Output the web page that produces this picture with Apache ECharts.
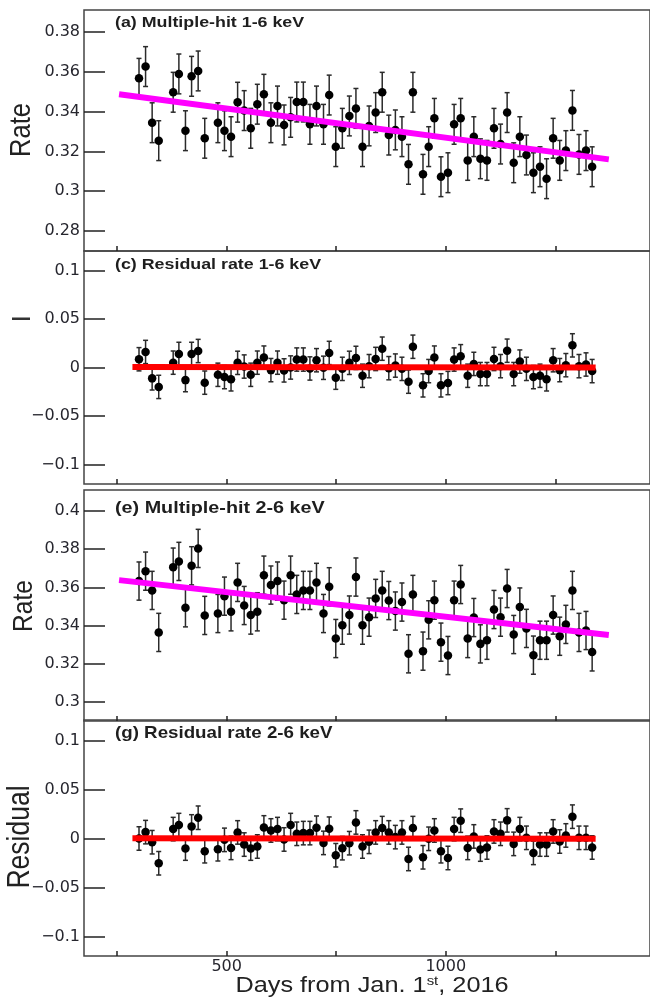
<!DOCTYPE html>
<html><head><meta charset="utf-8">
<script src="https://cdn.jsdelivr.net/npm/echarts@6/dist/echarts.min.js"></script>
<style>html,body{margin:0;padding:0;background:#fff}#c{width:650px;height:1000px}</style>
</head><body><div id="c"></div>
<script>
// ---- data ----
const days = [300, 315, 330, 345, 378, 391, 406, 420, 435, 450, 480, 495, 510, 525, 540, 555, 570, 585, 601, 616, 631, 646, 660, 675, 690, 705, 721, 734, 749, 764, 780, 795, 810, 825, 840, 855, 870, 885, 900, 915, 925, 948, 961, 974, 989, 1005, 1019, 1034, 1050, 1064, 1079, 1094, 1110, 1125, 1140, 1155, 1169, 1184, 1200, 1215, 1230, 1245, 1260, 1274, 1289, 1304, 1320, 1334];
const rate16 = [0.3567, 0.3626, 0.3344, 0.3254, 0.3497, 0.3589, 0.3304, 0.3577, 0.3604, 0.3266, 0.3344, 0.3304, 0.3274, 0.3447, 0.3405, 0.3316, 0.3437, 0.3487, 0.3344, 0.3428, 0.3333, 0.3371, 0.3448, 0.3448, 0.3336, 0.3428, 0.3336, 0.3483, 0.3224, 0.3316, 0.3378, 0.3416, 0.3224, 0.3328, 0.3395, 0.3497, 0.3282, 0.3308, 0.3274, 0.3135, 0.3497, 0.3085, 0.3224, 0.3366, 0.3073, 0.3093, 0.3336, 0.3366, 0.3155, 0.3274, 0.3163, 0.3155, 0.3316, 0.3237, 0.3395, 0.3143, 0.3274, 0.3182, 0.3093, 0.3123, 0.3063, 0.3266, 0.3155, 0.3204, 0.3406, 0.3185, 0.3204, 0.3123];
const resid16 = [0.0085, 0.016, -0.0112, -0.020, 0.005, 0.014, -0.013, 0.014, 0.017, -0.0156, -0.0075, -0.0099, -0.0122, 0.0048, 0.001, -0.0075, 0.005, 0.0102, -0.0027, 0.005, -0.003, 0.0, 0.0082, 0.0082, -0.001, 0.0075, -0.0003, 0.015, -0.0105, -0.0014, 0.0048, 0.0099, -0.0085, 0.0014, 0.0088, 0.0194, -0.0007, 0.002, -0.0014, -0.0146, 0.0214, -0.0184, -0.0037, 0.0102, -0.0184, -0.016, 0.0082, 0.0116, -0.0085, 0.0037, -0.0068, -0.0068, 0.0088, 0.0014, 0.0173, -0.0068, 0.0061, -0.0014, -0.0099, -0.0085, -0.0122, 0.0075, -0.0027, 0.0024, 0.0228, 0.0014, 0.0031, -0.0037];
const rate26 = [0.3633, 0.3685, 0.3584, 0.3364, 0.3706, 0.3736, 0.3493, 0.3713, 0.3804, 0.3453, 0.3463, 0.3554, 0.3472, 0.3626, 0.3505, 0.3455, 0.3472, 0.3664, 0.3612, 0.3633, 0.3533, 0.3664, 0.3563, 0.3584, 0.3584, 0.3626, 0.3463, 0.3603, 0.3332, 0.3402, 0.3455, 0.3654, 0.3402, 0.3444, 0.3542, 0.3584, 0.3531, 0.3476, 0.3523, 0.3252, 0.3563, 0.3266, 0.343, 0.3533, 0.3313, 0.3243, 0.3533, 0.3615, 0.3332, 0.3442, 0.3304, 0.3323, 0.3484, 0.3444, 0.3594, 0.3353, 0.3497, 0.3385, 0.3245, 0.3323, 0.3323, 0.3455, 0.3344, 0.3406, 0.3584, 0.3364, 0.3374, 0.3262];
const resid26 = [0.0, 0.0065, -0.0038, -0.0253, 0.0096, 0.0137, -0.0103, 0.0123, 0.0212, -0.013, -0.011, -0.0014, -0.0096, 0.0062, -0.0062, -0.0103, -0.0082, 0.0113, 0.0082, 0.0096, -0.001, 0.0137, 0.0048, 0.0055, 0.0055, 0.011, -0.0045, 0.01, -0.0171, -0.0099, -0.0048, 0.0164, -0.0082, -0.0034, 0.0062, 0.0106, 0.0062, 0.0014, 0.0062, -0.0209, 0.0106, -0.0192, -0.0003, 0.0082, -0.013, -0.0199, 0.0096, 0.0182, -0.0096, 0.0021, -0.0113, -0.0092, 0.0072, 0.0048, 0.0185, -0.0055, 0.0096, 0.0007, -0.0147, -0.0062, -0.0062, 0.0072, -0.0031, 0.0031, 0.0223, 0.0007, 0.0007, -0.0092];
const rateErr = 0.01;
const residErr = 0.012;
const fitRate16 = [[254.5, 0.3487], [1372, 0.316]];
const fitResid16 = [[285, 0.0005], [1342, 0.0]];
const fitRate26 = [[254.5, 0.3638], [1372, 0.335]];
const fitResid26 = [[285, 0.0003], [1342, -0.0003]];
const xTickVals = [250, 500, 750, 1000, 1250];
const xLabelVals = [500, 1000];
const rateTicks16 = [0.28, 0.30, 0.32, 0.34, 0.36, 0.38];
const rateTicks26 = [0.30, 0.32, 0.34, 0.36, 0.38, 0.40];
const residTicks = [-0.1, -0.05, 0, 0.05, 0.1];
const titles = ['(a) Multiple-hit 1-6 keV', '(c) Residual rate 1-6 keV', '(e) Multiple-hit 2-6 keV', '(g) Residual rate 2-6 keV'];

// ---- layout ----
const panels = [
  {top: 10, height: 241, min: 0.27, max: 0.391, ticks: rateTicks16, vals: rate16, err: rateErr, fit: fitRate16, fitColor: '#ff00ff', titleY: 23, titleSize: 15.5},
  {top: 251, height: 233, min: -0.12, max: 0.12, ticks: residTicks, vals: resid16, err: residErr, fit: fitResid16, fitColor: '#ff0000', titleY: 265, titleSize: 15.5},
  {top: 490, height: 231, min: 0.29, max: 0.411, ticks: rateTicks26, vals: rate26, err: rateErr, fit: fitRate26, fitColor: '#ff00ff', titleY: 508, titleSize: 17.2},
  {top: 720, height: 236, min: -0.12, max: 0.121, ticks: residTicks, vals: resid26, err: residErr, fit: fitResid26, fitColor: '#ff0000', titleY: 734, titleSize: 16.3}
];
const XMIN = 174.5, XMAX = 1466;
const labelFont = 'DejaVu Sans';
const txtColor = '#26262e';

function fmt(v) {
  const s = String(parseFloat(Number(v).toFixed(3)));
  return s.replace('-', '\u2212');
}

const grid = [], xAxis = [], yAxis = [], series = [];
panels.forEach((p, i) => {
  grid.push({left: 84, width: 570, top: p.top, height: p.height, show: true,
    borderColor: '#444', borderWidth: 1.5, backgroundColor: 'transparent'});
  xAxis.push({gridIndex: i, type: 'value', min: XMIN, max: XMAX,
    axisLine: {show: false, onZero: false}, splitLine: {show: false},
    axisTick: {show: true, inside: true, length: 5, customValues: xTickVals, lineStyle: {color: '#222', width: 1.5}},
    axisLabel: {show: i === 3, customValues: xLabelVals, formatter: v => String(Math.round(v)),
      fontSize: 16, fontFamily: labelFont, color: txtColor, margin: 3}
  });
  yAxis.push({gridIndex: i, type: 'value', min: p.min, max: p.max,
    axisLine: {show: false, onZero: false}, splitLine: {show: false},
    axisTick: {show: true, inside: true, length: 21, customValues: p.ticks, lineStyle: {color: '#222', width: 1.5}},
    axisLabel: {customValues: p.ticks, formatter: fmt, fontSize: 16, fontFamily: labelFont, color: txtColor, margin: 4}
  });
  series.push({
    type: 'custom', xAxisIndex: i, yAxisIndex: i, z: 2, silent: true,
    data: days.map((d, k) => [d, p.vals[k] - p.err, p.vals[k] + p.err]),
    renderItem: function (params, api) {
      const lo = api.coord([api.value(0), api.value(1)]);
      const hi = api.coord([api.value(0), api.value(2)]);
      const st = {stroke: '#2a2a2a', lineWidth: 1.5};
      const cw = 2.5;
      return {type: 'group', children: [
        {type: 'line', shape: {x1: lo[0], y1: lo[1], x2: hi[0], y2: hi[1]}, style: st},
        {type: 'line', shape: {x1: lo[0] - cw, y1: lo[1], x2: lo[0] + cw, y2: lo[1]}, style: st},
        {type: 'line', shape: {x1: hi[0] - cw, y1: hi[1], x2: hi[0] + cw, y2: hi[1]}, style: st}
      ]};
    }
  });
  series.push({
    type: 'scatter', xAxisIndex: i, yAxisIndex: i, z: 3, silent: true,
    symbol: 'circle', symbolSize: 8.5, itemStyle: {color: '#000', opacity: 1},
    data: days.map((d, k) => [d, p.vals[k]])
  });
  series.push({
    type: 'line', xAxisIndex: i, yAxisIndex: i, z: 4, silent: true,
    symbol: 'none', lineStyle: {color: p.fitColor, width: 6, cap: 'butt', opacity: 1},
    data: p.fit
  });
});

const graphic = [];
panels.forEach((p, i) => {
  graphic.push({type: 'text', x: 115, y: p.titleY, scaleX: 1.15, z: 10,
    style: {text: titles[i], font: 'bold ' + p.titleSize + 'px "Liberation Sans"', fill: '#1e1e1e',
      textAlign: 'left', textVerticalAlign: 'middle'}});
});
// y-axis names
graphic.push({type: 'text', x: 22, y: 130, rotation: Math.PI / 2, scaleY: 1.15,
  style: {text: 'Rate', font: '25.5px "Liberation Sans"', fill: '#222', textAlign: 'center', textVerticalAlign: 'middle'}});
graphic.push({type: 'text', x: 24, y: 606, rotation: Math.PI / 2, scaleY: 1.15,
  style: {text: 'Rate', font: '24.5px "Liberation Sans"', fill: '#222', textAlign: 'center', textVerticalAlign: 'middle'}});
graphic.push({type: 'text', x: 21, y: 837, rotation: Math.PI / 2, scaleY: 1.15,
  style: {text: 'Residual', font: '26.5px "Liberation Sans"', fill: '#222', textAlign: 'center', textVerticalAlign: 'middle'}});
graphic.push({type: 'rect', shape: {x: 12, y: 317.5, width: 18, height: 2.5}, style: {fill: '#333'}});
// x-axis name
graphic.push({type: 'text', x: 372, y: 986, scaleX: 1.15,
  style: {text: '{a|Days from Jan. 1}{s|st}{a|, 2016}', fill: '#222', textAlign: 'center', textVerticalAlign: 'middle',
    rich: {a: {font: '22px "Liberation Sans"', fill: '#222'},
           s: {font: '13px "Liberation Sans"', fill: '#222', verticalAlign: 'top', padding: [0, 0, 10, 0]}}}});

const chart = echarts.init(document.getElementById('c'), null, {renderer: 'canvas'});
chart.setOption({animation: false, backgroundColor: '#fff', grid, xAxis, yAxis, series, graphic});
</script></body></html>
